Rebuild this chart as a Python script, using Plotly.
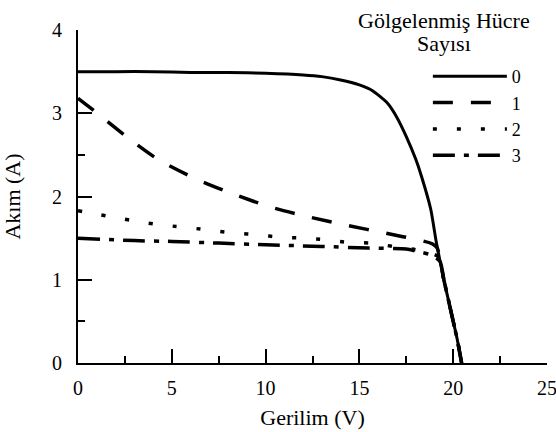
import plotly.graph_objects as go

# Voltage (V) / current (A)
V0 = [0, 2, 4, 6, 8, 10, 12, 13, 14, 15, 15.7, 16.5, 17, 17.5, 18, 18.3, 18.8, 19.1, 19.5, 19.7, 20, 20.2, 20.45]
I0 = [3.5, 3.5, 3.5, 3.49, 3.49, 3.48, 3.46, 3.44, 3.40, 3.34, 3.27, 3.12, 2.95, 2.72, 2.45, 2.25, 1.85, 1.45, 1.0, 0.8, 0.5, 0.3, 0.0]

V1 = [0, 0.8, 2.8, 4.3, 6.3, 8.4, 10.3, 12.4, 14.4, 16.4, 18.3, 18.9, 19.15, 19.5, 19.7, 20, 20.2, 20.45]
I1 = [3.18, 3.04, 2.68, 2.44, 2.21, 2.02, 1.87, 1.75, 1.65, 1.56, 1.47, 1.43, 1.38, 1.0, 0.8, 0.5, 0.3, 0.0]

V2 = [0, 1.2, 2.45, 3.7, 4.8, 6.1, 7.2, 8.4, 9.6, 10.8, 12.0, 13.2, 14.4, 15.6, 16.8, 18.0, 18.8, 19.25, 19.5, 19.7, 20, 20.2, 20.45]
I2 = [1.83, 1.78, 1.73, 1.68, 1.65, 1.62, 1.59, 1.56, 1.54, 1.51, 1.50, 1.48, 1.45, 1.44, 1.40, 1.36, 1.32, 1.27, 1.0, 0.8, 0.5, 0.3, 0.0]

V3 = [0, 3, 5, 7.5, 10, 13, 15.5, 17.5, 18.1, 18.8, 19.3, 19.5, 19.7, 20, 20.2, 20.45]
I3 = [1.50, 1.47, 1.46, 1.44, 1.42, 1.40, 1.38, 1.37, 1.34, 1.30, 1.22, 1.0, 0.8, 0.5, 0.3, 0.0]

series_names = ["0", "1", "2", "3"]
legend_title_lines = ["Gölgelenmiş Hücre", "Sayısı"]
x_title = "Gerilim (V)"
y_title = "Akım (A)"

FONT = "Liberation Serif, Times New Roman, serif"

fig = go.Figure()
styles = [
    dict(width=3, dash="solid"),
    dict(width=3.5, dash="20px,18px"),
    dict(width=3.5, dash="4px,20px"),
    dict(width=3.5, dash="22px,9px,5px,9px"),
]
for name, xs, ys, st in zip(series_names, [V0, V1, V2, V3], [I0, I1, I2, I3], styles):
    fig.add_trace(go.Scatter(x=xs, y=ys, name=name, mode="lines",
                             line=dict(color="black", width=st["width"], dash=st["dash"],
                                       shape="spline", smoothing=0.6)))

axis_common = dict(
    showline=True, linecolor="black", linewidth=2, showgrid=False, zeroline=False,
    ticks="inside", ticklen=14, tickwidth=2, tickcolor="black",
    tickfont=dict(family=FONT, size=20, color="black"),
    mirror=False, automargin=False, ticklabeloverflow="allow",
)
fig.update_xaxes(range=[0, 25], dtick=5, tick0=0, ticklabelstandoff=6,
                 minor=dict(dtick=2.5, ticks="inside", ticklen=7, tickwidth=2, tickcolor="black"),
                 title=dict(text=x_title, font=dict(family=FONT, size=22, color="black"), standoff=12),
                 **axis_common)
fig.update_yaxes(range=[0, 4], dtick=1, tick0=0, ticklabelstandoff=10,
                 minor=dict(dtick=0.5, ticks="inside", ticklen=7, tickwidth=2, tickcolor="black"),
                 title=dict(text=y_title, font=dict(family=FONT, size=22, color="black"), standoff=42),
                 **axis_common)

for txt, ypos in zip(legend_title_lines, [1.03, 0.958]):
    fig.add_annotation(text=txt, xref="paper", yref="paper", x=0.78, y=ypos,
                       xanchor="center", yanchor="middle", showarrow=False,
                       font=dict(family=FONT, size=22, color="black"))

fig.update_layout(
    width=556, height=432,
    margin=dict(l=78, r=9, t=30, b=69),
    paper_bgcolor="white", plot_bgcolor="white",
    font=dict(family=FONT, size=18, color="black"),
    showlegend=True,
    legend=dict(x=0.746, y=0.916, xanchor="left", yanchor="top",
                bgcolor="rgba(0,0,0,0)", itemwidth=74,
                font=dict(family=FONT, size=18, color="black")),
)

fig.write_html("out.html",
               config={"displayModeBar": False},
               post_script="document.body.style.margin='0';document.body.style.overflow='hidden';")
